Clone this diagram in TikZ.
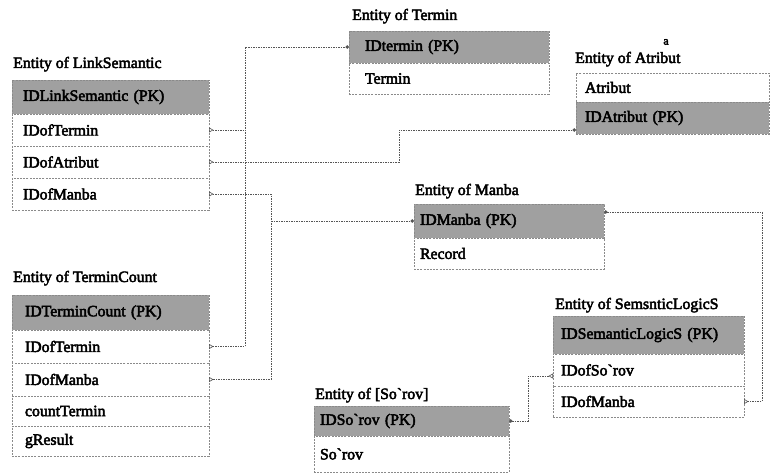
\documentclass[tikz,border=0pt]{standalone}
\usepackage{fontspec}
\setmainfont{Liberation Serif}
\newfontfamily\erserif{Liberation Serif}[FakeBold=3]
\usetikzlibrary{arrows.meta,fit,backgrounds}

\definecolor{pkfill}{HTML}{A0A0A0}
\definecolor{edge}{HTML}{8A8A8A}
\definecolor{wire}{HTML}{555555}

\tikzset{
  erfont/.style={font=\erserif\fontsize{15.8}{17}\selectfont},
  ttl/.style={erfont, anchor=base west, inner sep=0pt},
  cell/.style={erfont, draw=edge, dash pattern=on 2pt off 1.2pt, line width=0.9pt,
               anchor=north west, align=left, inner ysep=0pt, outer sep=0pt},
  hdr/.style={cell, fill=pkfill},
  fld/.style={cell, fill=white},
  frame/.style={draw=edge, dash pattern=on 2pt off 1.2pt, line width=1.4pt,
                fill=white, inner sep=3pt},
  link/.style={draw=wire, dash pattern=on 1.6pt off 0.9pt, line width=0.8pt},
  crow/.tip={Triangle[open,reversed,length=4.5pt,width=5pt,line width=0.6pt]},
  pkdot/.tip={Circle[length=3.5pt]},
  % column widths of the entities
  lsw/.style={text width=175pt, inner xsep=11pt},
  tcw/.style={text width=171pt, inner xsep=13pt},
  tmw/.style={text width=168pt, inner xsep=16pt},
  atw/.style={text width=175pt, inner xsep=9pt},
  mbw/.style={text width=178pt, inner xsep=6pt},
  srw/.style={text width=183pt, inner xsep=6pt},
  slw/.style={text width=175pt, inner xsep=8pt},
}

\begin{document}
\begin{tikzpicture}[x=1pt, y=-1pt]
\fill[white] (0,0) rectangle (776,476);
\useasboundingbox (0,0) rectangle (776,476);

% ---------- Entity of LinkSemantic ----------
\node[ttl] (ls-title) at (13,68) {Entity of LinkSemantic};
\node[hdr, lsw, minimum height=34pt] (ls-pk) at (12,80) {IDLinkSemantic (PK)};
\node[fld, lsw, minimum height=32pt] (ls-t) at (ls-pk.south west) {IDofTermin};
\node[fld, lsw, minimum height=32pt] (ls-a) at (ls-t.south west) {IDofAtribut};
\node[fld, lsw, minimum height=32pt] (ls-m) at (ls-a.south west) {IDofManba};

% ---------- Entity of TerminCount ----------
\node[ttl] (tc-title) at (13,282) {Entity of TerminCount};
\node[hdr, tcw, minimum height=35pt] (tc-pk) at (12,295) {IDTerminCount (PK)};
\node[fld, tcw, minimum height=33pt] (tc-t) at (tc-pk.south west) {IDofTermin};
\node[fld, tcw, minimum height=33pt] (tc-m) at (tc-t.south west) {IDofManba};
\node[fld, tcw, minimum height=30pt] (tc-c) at (tc-m.south west) {countTermin};
\node[fld, tcw, minimum height=30pt] (tc-g) at (tc-c.south west) {gResult};

% ---------- Entity of Termin ----------
\node[ttl] (tm-title) at (352,20) {Entity of Termin};
\node[hdr, tmw, minimum height=32pt] (tm-pk) at (349,31) {IDtermin (PK)};
\node[fld, tmw, minimum height=31pt] (tm-t) at (tm-pk.south west) {Termin};

% ---------- Entity of Atribut ----------
\node[inner sep=0pt, font=\erserif\fontsize{12}{12}\selectfont] (mark-a) at (666,42) {a};
\node[ttl] (at-title) at (575,63) {Entity of Atribut};
\node[fld, atw, minimum height=29pt] (at-a) at (576,73) {Atribut};
\node[hdr, atw, minimum height=32pt] (at-pk) at (at-a.south west) {IDAtribut (PK)};

% ---------- Entity of Manba ----------
\node[ttl] (mb-title) at (415,195) {Entity of Manba};
\node[hdr, mbw, minimum height=34pt] (mb-pk) at (414,204) {IDManba (PK)};
\node[fld, mbw, minimum height=31pt] (mb-r) at (mb-pk.south west) {Record};

% ---------- Entity of [So'rov] ----------
\node[ttl] (sr-title) at (315,399) {Entity of [So`rov]};
\node[hdr, srw, minimum height=30pt] (sr-pk) at (314,406) {IDSo`rov (PK)};
\node[fld, srw, minimum height=36pt] (sr-s) at (sr-pk.south west) {So`rov};

% ---------- Entity of SemanticLogicS ----------
\node[ttl] (sl-title) at (555,309) {Entity of SemsnticLogicS};
\node[hdr, slw, minimum height=38pt] (sl-pk) at (553,316) {IDSemanticLogicS (PK)};
\node[fld, slw, minimum height=32pt] (sl-s) at (sl-pk.south west) {IDofSo`rov};
\node[fld, slw, minimum height=31pt] (sl-m) at (sl-s.south west) {IDofManba};

% outer frames of the entities
\begin{scope}[on background layer]
  \node[frame, fit=(ls-pk)(ls-m)] (ls) {};
  \node[frame, fit=(tc-pk)(tc-g)] (tc) {};
  \node[frame, fit=(tm-pk)(tm-t)] (tm) {};
  \node[frame, fit=(at-a)(at-pk)] (at) {};
  \node[frame, fit=(mb-pk)(mb-r)] (mb) {};
  \node[frame, fit=(sr-pk)(sr-s)] (sr) {};
  \node[frame, fit=(sl-pk)(sl-m)] (sl) {};
\end{scope}

% bus lines of the relations
\coordinate (jT) at (245,0);
\coordinate (jA) at (399,0);
\coordinate (jM) at (271,0);
\coordinate (jR) at (762,0);
\coordinate (jS) at (528,0);
\coordinate (atIn) at ([yshift=-12pt]at-pk.west);
\coordinate (mbOut) at ([yshift=9pt]mb-pk.east);
\coordinate (slIn) at ([yshift=-6pt]sl-s.west);

% Termin
\draw[link, crow-pkdot] (tc-t.east) -| (jT |- tm-pk.west) -- (tm-pk.west);
\draw[link, crow-] (ls-t.east) -- (ls-t.east -| jT);
% Atribut
\draw[link, crow-pkdot] (ls-a.east) -| (jA |- atIn) -- (atIn);
% Manba
\draw[link, crow-crow] (ls-m.east) -| (jM |- tc-m.east) -- (tc-m.east);
\draw[link, -pkdot] (jM |- mb-pk.west) -- (mb-pk.west);
% Manba -> SemanticLogicS
\draw[link, pkdot-crow] (mbOut) -| (jR |- sl-m.east) -- (sl-m.east);
% So'rov -> SemanticLogicS
\draw[link, pkdot-crow] (sr-pk.east) -| (jS |- slIn) -- (slIn);
\end{tikzpicture}
\end{document}
